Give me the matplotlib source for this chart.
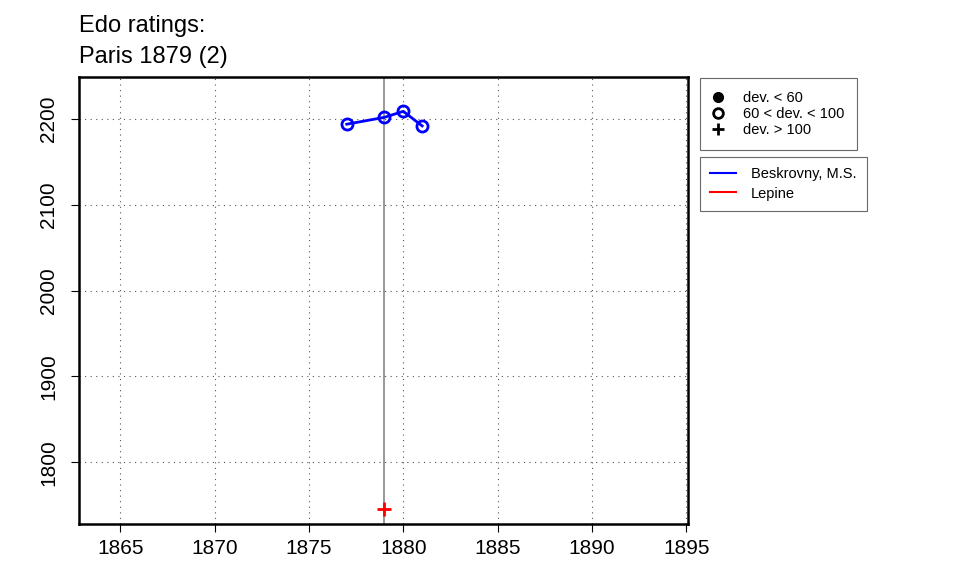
import matplotlib
matplotlib.use("Agg")
import matplotlib.pyplot as plt
from matplotlib.lines import Line2D

plt.rcParams['font.family'] = ['Liberation Sans', 'DejaVu Sans']

# data
bes_years = [1877, 1879, 1880, 1881]
bes_rating = [2194, 2202, 2209, 2192]
lep_years = [1879]
lep_rating = [1745]
event_year = 1879
xticks = [1865, 1870, 1875, 1880, 1885, 1890, 1895]
yticks = [1800, 1900, 2000, 2100, 2200]

fig = plt.figure(figsize=(9.6, 5.76), dpi=100)
ax = fig.add_axes([0.0823, 0.0903, 0.6344, 0.776])

ax.axvline(event_year, color='#888888', lw=1.2, zorder=1)
ax.plot(bes_years, bes_rating, color='blue', lw=2, marker='o', ms=8,
        mfc='none', mew=2, zorder=3)
ax.plot(lep_years, lep_rating, color='red', ls='none', marker='+', ms=10,
        mew=2, zorder=3)

ax.set_xlim(1862.8, 1895.1)
ax.set_ylim(1728, 2249)
ax.set_xticks(xticks)
ax.set_yticks(yticks)
ax.grid(True, color='#555555', ls=(0, (1, 4)), lw=0.8)
ax.tick_params(direction='out', length=6, labelsize=15, width=0.8)
ax.tick_params(axis='x', pad=5)
ax.tick_params(axis='y', pad=9)
for lab in ax.get_yticklabels():
    lab.set_rotation(90)
    lab.set_va('center')
for s in ax.spines.values():
    s.set_linewidth(1.8)

fig.text(0.0823, 0.9444, 'Edo ratings:', fontsize=17, ha='left', va='baseline')
fig.text(0.0823, 0.8906, 'Paris 1879 (2)', fontsize=17, ha='left', va='baseline')

h1 = [Line2D([], [], color='black', marker='o', ls='none', ms=7),
      Line2D([], [], color='black', marker='o', mfc='none', mew=2, ls='none', ms=7),
      Line2D([], [], color='black', marker='+', mew=2, ls='none', ms=9)]
leg1 = fig.legend(h1, ['dev. < 60', '60 < dev. < 100', 'dev. > 100'],
                  loc='upper left', bbox_to_anchor=(0.729, 0.864),
                  fontsize=10.5, frameon=True, fancybox=False, edgecolor='#444444',
                  handlelength=0.8, handletextpad=1.3, labelspacing=0.15,
                  borderpad=0.85, borderaxespad=0)
leg1.get_frame().set_linewidth(0.8)

h2 = [Line2D([], [], color='blue', lw=1.5), Line2D([], [], color='red', lw=1.5)]
leg2 = fig.legend(h2, ['Beskrovny, M.S.', 'Lepine'],
                  loc='upper left', bbox_to_anchor=(0.729, 0.727),
                  fontsize=10.5, frameon=True, fancybox=False, edgecolor='#444444',
                  handlelength=1.8, handletextpad=1.0, labelspacing=0.35,
                  borderpad=0.7, borderaxespad=0)
leg2.get_frame().set_linewidth(0.8)

fig.savefig('out.png', dpi=100)
